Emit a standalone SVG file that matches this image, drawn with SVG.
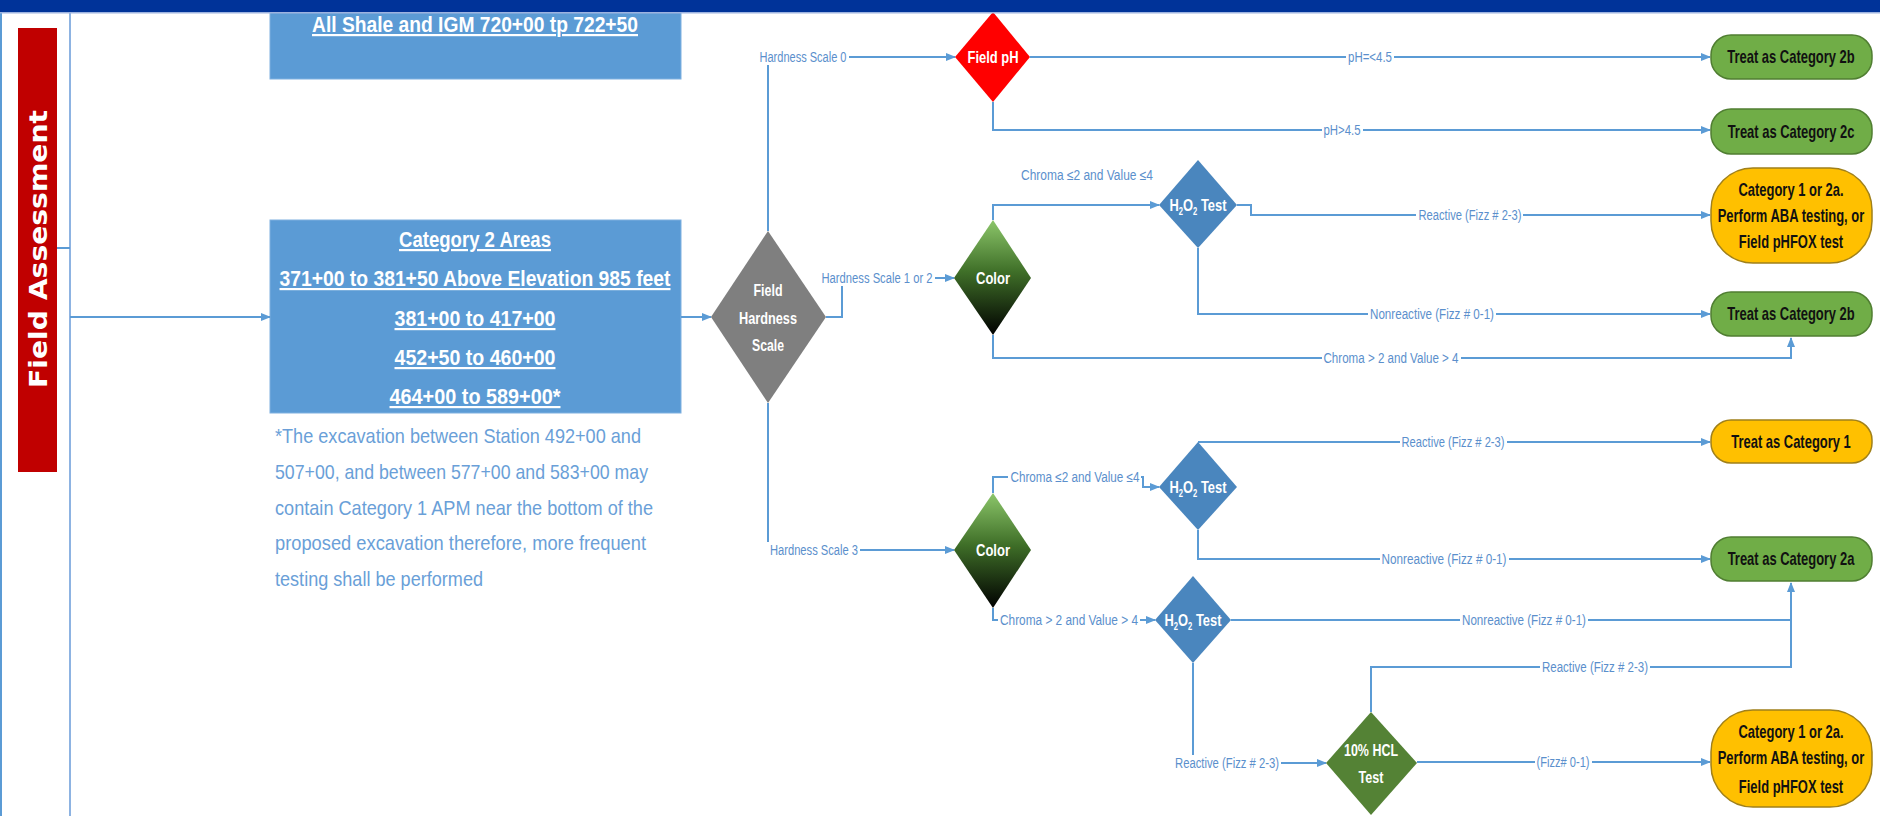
<svg xmlns="http://www.w3.org/2000/svg" width="1880" height="816" viewBox="0 0 1880 816">
<defs>
<style>
.ln{fill:none;stroke:#5b9bd5;stroke-width:2}
.lb{font-family:"Liberation Sans Narrow","Liberation Sans",sans-serif;font-size:14px;fill:#5b8fcc;text-anchor:middle}
.bg{fill:#fff}
.bx{font-family:"Liberation Sans",sans-serif;font-weight:bold;font-size:22px;fill:#fff;text-anchor:middle;text-decoration:underline}
.fn{font-family:"Liberation Sans",sans-serif;font-size:21px;fill:#6a9fd8}
.nt{font-family:"Liberation Sans",sans-serif;font-weight:bold;font-size:17px;fill:#fff;text-anchor:middle}
.tt{font-family:"Liberation Sans",sans-serif;font-weight:bold;font-size:18px;fill:#111;text-anchor:middle}
.gr{fill:#70ad47;stroke:#507e32;stroke-width:1.5}
.or{fill:#ffc000;stroke:#a0801a;stroke-width:1.5}
</style>
<marker id="arr" markerWidth="10" markerHeight="10" refX="9" refY="5" orient="auto" markerUnits="userSpaceOnUse">
<path d="M0,1 L10,5 L0,9 z" fill="#5b9bd5"/>
</marker>
<linearGradient id="cg" x1="0" y1="0" x2="0" y2="1">
<stop offset="0" stop-color="#8cc66a"/>
<stop offset="0.45" stop-color="#3f6f28"/>
<stop offset="1" stop-color="#000"/>
</linearGradient>
</defs>
<rect width="1880" height="816" fill="#fff"/>

<g id="lane">
<line x1="1" y1="12" x2="1" y2="816" stroke="#5b9bd5" stroke-width="2"/>
<line x1="70" y1="12" x2="70" y2="816" stroke="#8db3e2" stroke-width="2"/>
<rect x="18" y="28" width="39" height="444" fill="#c00000"/>
<text transform="translate(47,249) rotate(-90)" font-family="DejaVu Sans,Verdana,sans-serif" font-weight="bold" font-size="25" fill="#fff" text-anchor="middle" textLength="278" lengthAdjust="spacingAndGlyphs">Field Assessment</text>
</g>

<g id="box-shale">
<rect x="270" y="12" width="411" height="67" fill="#5b9bd5" stroke="#7fb0e0" stroke-width="1"/>
<text class="bx" x="475" y="32" textLength="326" lengthAdjust="spacingAndGlyphs">All Shale and IGM 720+00 tp 722+50</text>
</g>

<g id="box-cat2">
<rect x="270" y="220" width="411" height="193" fill="#5b9bd5" stroke="#7fb0e0" stroke-width="1"/>
<text class="bx" x="475" y="247" textLength="152" lengthAdjust="spacingAndGlyphs">Category 2 Areas</text>
<text class="bx" x="475" y="286" textLength="391" lengthAdjust="spacingAndGlyphs">371+00 to 381+50 Above Elevation 985 feet</text>
<text class="bx" x="475" y="326" textLength="161" lengthAdjust="spacingAndGlyphs">381+00 to 417+00</text>
<text class="bx" x="475" y="365" textLength="161" lengthAdjust="spacingAndGlyphs">452+50 to 460+00</text>
<text class="bx" x="475" y="404" textLength="171" lengthAdjust="spacingAndGlyphs">464+00 to 589+00*</text>
</g>

<g id="footnote">
<text class="fn" x="275" y="443" textLength="366" lengthAdjust="spacingAndGlyphs">*The excavation  between Station 492+00 and</text>
<text class="fn" x="275" y="479" textLength="373" lengthAdjust="spacingAndGlyphs">507+00, and between 577+00 and 583+00 may</text>
<text class="fn" x="275" y="515" textLength="378" lengthAdjust="spacingAndGlyphs">contain Category 1 APM near the bottom of the</text>
<text class="fn" x="275" y="550" textLength="371" lengthAdjust="spacingAndGlyphs">proposed excavation therefore, more frequent</text>
<text class="fn" x="275" y="586" textLength="208" lengthAdjust="spacingAndGlyphs">testing shall be performed</text>
</g>

<g id="connectors">
<path class="ln" d="M57,248 H70"/>
<path class="ln" d="M70,317 H270" marker-end="url(#arr)"/>
<path class="ln" d="M681,317 H711" marker-end="url(#arr)"/>
<path class="ln" d="M768,231 V57 H955" marker-end="url(#arr)"/>
<path class="ln" d="M1030,57 H1710" marker-end="url(#arr)"/>
<path class="ln" d="M993,102 V130 H1710" marker-end="url(#arr)"/>
<path class="ln" d="M826,317 H842 V278 H954" marker-end="url(#arr)"/>
<path class="ln" d="M993,220 V205 H1159" marker-end="url(#arr)"/>
<path class="ln" d="M1237,205 H1251 V215 H1710" marker-end="url(#arr)"/>
<path class="ln" d="M1198,248 V314 H1710" marker-end="url(#arr)"/>
<path class="ln" d="M993,335 V358 H1791 V338" marker-end="url(#arr)"/>
<path class="ln" d="M768,403 V550 H954" marker-end="url(#arr)"/>
<path class="ln" d="M993,493 V477 H1143 V487 H1159" marker-end="url(#arr)"/>
<path class="ln" d="M1198,442 H1710" marker-end="url(#arr)"/>
<path class="ln" d="M1198,530 V559 H1710" marker-end="url(#arr)"/>
<path class="ln" d="M993,608 V620 H1155" marker-end="url(#arr)"/>
<path class="ln" d="M1231,620 H1791 V583" marker-end="url(#arr)"/>
<path class="ln" d="M1193,663 V763 H1326" marker-end="url(#arr)"/>
<path class="ln" d="M1371,712 V667 H1791 V620"/>
<path class="ln" d="M1417,762 H1710" marker-end="url(#arr)"/>

<rect class="bg" x="758" y="49" width="91" height="16"/>
<text class="lb" x="803" y="62" textLength="87" lengthAdjust="spacingAndGlyphs">Hardness Scale 0</text>
<rect class="bg" x="1346" y="49" width="48" height="16"/>
<text class="lb" x="1370" y="62" textLength="44" lengthAdjust="spacingAndGlyphs">pH=&lt;4.5</text>
<rect class="bg" x="1322" y="122" width="41" height="16"/>
<text class="lb" x="1342" y="135" textLength="37" lengthAdjust="spacingAndGlyphs">pH&gt;4.5</text>
<text class="lb" x="1087" y="180" textLength="132" lengthAdjust="spacingAndGlyphs">Chroma ≤2 and  Value ≤4</text>
<rect class="bg" x="820" y="270" width="115" height="16"/>
<text class="lb" x="877" y="283" textLength="111" lengthAdjust="spacingAndGlyphs">Hardness Scale 1 or 2</text>
<rect class="bg" x="1416" y="207" width="107" height="16"/>
<text class="lb" x="1470" y="220" textLength="103" lengthAdjust="spacingAndGlyphs">Reactive (Fizz # 2-3)</text>
<rect class="bg" x="1368" y="306" width="128" height="16"/>
<text class="lb" x="1432" y="319" textLength="124" lengthAdjust="spacingAndGlyphs">Nonreactive (Fizz # 0-1)</text>
<rect class="bg" x="1322" y="350" width="139" height="16"/>
<text class="lb" x="1391" y="363" textLength="135" lengthAdjust="spacingAndGlyphs">Chroma &gt; 2 and Value &gt; 4</text>
<rect class="bg" x="766" y="542" width="94" height="16"/>
<text class="lb" x="814" y="555" textLength="88" lengthAdjust="spacingAndGlyphs">Hardness Scale 3</text>
<rect class="bg" x="1008" y="469" width="133" height="16"/>
<text class="lb" x="1075" y="482" textLength="129" lengthAdjust="spacingAndGlyphs">Chroma ≤2 and Value ≤4</text>
<rect class="bg" x="1400" y="434" width="107" height="16"/>
<text class="lb" x="1453" y="447" textLength="103" lengthAdjust="spacingAndGlyphs">Reactive (Fizz # 2-3)</text>
<rect class="bg" x="1380" y="551" width="129" height="16"/>
<text class="lb" x="1444" y="564" textLength="125" lengthAdjust="spacingAndGlyphs">Nonreactive (Fizz # 0-1)</text>
<rect class="bg" x="998" y="612" width="142" height="16"/>
<text class="lb" x="1069" y="625" textLength="138" lengthAdjust="spacingAndGlyphs">Chroma &gt; 2 and  Value &gt; 4</text>
<rect class="bg" x="1460" y="612" width="128" height="16"/>
<text class="lb" x="1524" y="625" textLength="124" lengthAdjust="spacingAndGlyphs">Nonreactive (Fizz # 0-1)</text>
<rect class="bg" x="1540" y="659" width="110" height="16"/>
<text class="lb" x="1595" y="672" textLength="106" lengthAdjust="spacingAndGlyphs">Reactive (Fizz # 2-3)</text>
<rect class="bg" x="1173" y="755" width="108" height="16"/>
<text class="lb" x="1227" y="768" textLength="104" lengthAdjust="spacingAndGlyphs">Reactive (Fizz # 2-3)</text>
<rect class="bg" x="1535" y="754" width="57" height="16"/>
<text class="lb" x="1563" y="767" textLength="53" lengthAdjust="spacingAndGlyphs">(Fizz# 0-1)</text>
</g>

<g id="n-hardness">
<polygon points="711,317 768,231 826,317 768,403" fill="#7f7f7f"/>
<text class="nt" x="768" y="296" textLength="29" lengthAdjust="spacingAndGlyphs">Field</text>
<text class="nt" x="768" y="324" textLength="58" lengthAdjust="spacingAndGlyphs">Hardness</text>
<text class="nt" x="768" y="351" textLength="32" lengthAdjust="spacingAndGlyphs">Scale</text>
</g>
<g id="n-fieldph">
<polygon points="955,57 993,12 1030,57 993,102" fill="#ff0000"/>
<text class="nt" x="993" y="63" textLength="51" lengthAdjust="spacingAndGlyphs">Field pH</text>
</g>
<g id="n-color1">
<polygon points="954,278 993,220 1031,278 993,335" fill="url(#cg)"/>
<text class="nt" x="993" y="284" font-weight="normal" textLength="34" lengthAdjust="spacingAndGlyphs">Color</text>
</g>
<g id="n-h2o2-1">
<polygon points="1159,205 1198,160 1237,205 1198,248" fill="#4a86be"/>
<text class="nt" transform="translate(1198,211) scale(0.76,1)" x="0" y="0" font-size="16">H<tspan font-size="10" dy="4">2</tspan><tspan dy="-4">O</tspan><tspan font-size="10" dy="4">2</tspan><tspan dy="-4"> Test</tspan></text>
</g>
<g id="n-color2">
<polygon points="954,550 993,493 1031,550 993,608" fill="url(#cg)"/>
<text class="nt" x="993" y="556" font-weight="normal" textLength="34" lengthAdjust="spacingAndGlyphs">Color</text>
</g>
<g id="n-h2o2-2">
<polygon points="1159,487 1198,442 1237,487 1198,530" fill="#4a86be"/>
<text class="nt" transform="translate(1198,493) scale(0.76,1)" x="0" y="0" font-size="16">H<tspan font-size="10" dy="4">2</tspan><tspan dy="-4">O</tspan><tspan font-size="10" dy="4">2</tspan><tspan dy="-4"> Test</tspan></text>
</g>
<g id="n-h2o2-3">
<polygon points="1155,620 1193,576 1231,620 1193,663" fill="#4a86be"/>
<text class="nt" transform="translate(1193,626) scale(0.76,1)" x="0" y="0" font-size="16">H<tspan font-size="10" dy="4">2</tspan><tspan dy="-4">O</tspan><tspan font-size="10" dy="4">2</tspan><tspan dy="-4"> Test</tspan></text>
</g>
<g id="n-hcl">
<polygon points="1326,763 1371,712 1417,763 1371,815" fill="#548235"/>
<text class="nt" x="1371" y="756" textLength="54" lengthAdjust="spacingAndGlyphs">10% HCL</text>
<text class="nt" x="1371" y="783" textLength="25" lengthAdjust="spacingAndGlyphs">Test</text>
</g>

<g id="t-2b-top">
<rect class="gr" x="1711" y="35" width="161" height="44" rx="20"/>
<text class="tt" transform="translate(1791,63) scale(0.72,1)">Treat as Category 2b</text>
</g>
<g id="t-2c">
<rect class="gr" x="1711" y="109" width="161" height="45" rx="20"/>
<text class="tt" transform="translate(1791,138) scale(0.72,1)">Treat as Category 2c</text>
</g>
<g id="t-aba-top">
<rect class="or" x="1711" y="168" width="161" height="95" rx="42"/>
<text class="tt" transform="translate(1791,196) scale(0.72,1)">Category 1 or 2a.</text>
<text class="tt" transform="translate(1791,222) scale(0.72,1)">Perform ABA testing, or</text>
<text class="tt" transform="translate(1791,248) scale(0.72,1)">Field pHFOX test</text>
</g>
<g id="t-2b-mid">
<rect class="gr" x="1711" y="292" width="161" height="44" rx="20"/>
<text class="tt" transform="translate(1791,320) scale(0.72,1)">Treat as Category 2b</text>
</g>
<g id="t-cat1">
<rect class="or" x="1711" y="420" width="161" height="43" rx="20"/>
<text class="tt" transform="translate(1791,448) scale(0.72,1)">Treat as Category 1</text>
</g>
<g id="t-2a">
<rect class="gr" x="1711" y="537" width="161" height="44" rx="20"/>
<text class="tt" transform="translate(1791,565) scale(0.72,1)">Treat as Category 2a</text>
</g>
<g id="t-aba-bottom">
<rect class="or" x="1711" y="710" width="161" height="97" rx="42"/>
<text class="tt" transform="translate(1791,738) scale(0.72,1)">Category 1 or 2a.</text>
<text class="tt" transform="translate(1791,764) scale(0.72,1)">Perform ABA testing, or</text>
<text class="tt" transform="translate(1791,793) scale(0.72,1)">Field pHFOX test</text>
</g>

<g id="topbar">
<rect x="0" y="0" width="1880" height="12" fill="#003399"/>
<rect x="0" y="12" width="1880" height="1.5" fill="#9db3e0"/>
</g>
</svg>
